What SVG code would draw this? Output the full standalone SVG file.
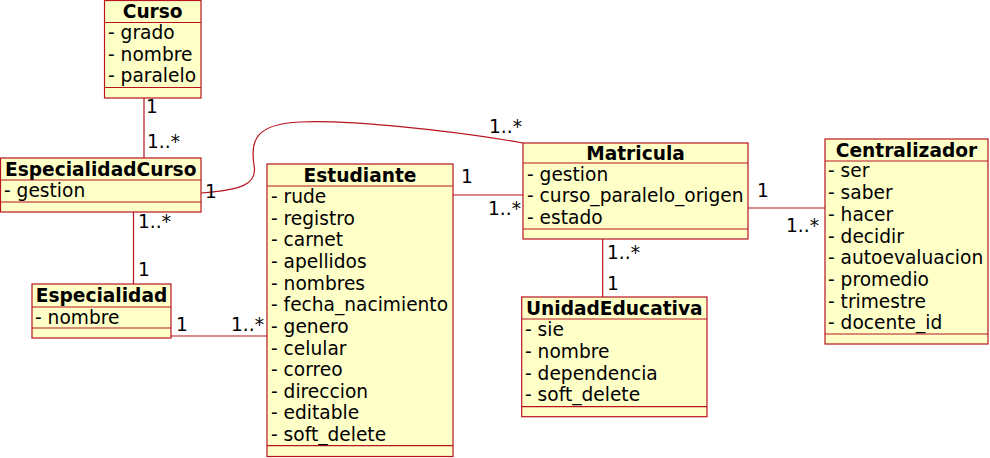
<svg xmlns="http://www.w3.org/2000/svg" width="990" height="458" viewBox="0 0 990 458">
<style>
.box{fill:#ffffc8;stroke:#b81420;stroke-width:1.2}
.ln{stroke:#b81420;stroke-width:1.2;fill:none}
.t{font-family:"DejaVu Sans",sans-serif;font-size:18.6px;font-weight:bold;fill:#000;text-anchor:middle}
.a{font-family:"DejaVu Sans",sans-serif;font-size:18.6px;fill:#000}
.m{font-family:"DejaVu Sans",sans-serif;font-size:18.6px;fill:#000}
</style>
<rect width="990" height="458" fill="#fff"/>
<g id="connectors">
<line class="ln" x1="144" y1="98" x2="144" y2="158"/>
<line class="ln" x1="133.5" y1="212" x2="133.5" y2="284"/>
<line class="ln" x1="171" y1="336" x2="267" y2="336"/>
<line class="ln" x1="453" y1="195" x2="523" y2="195"/>
<line class="ln" x1="748" y1="208" x2="825" y2="208"/>
<line class="ln" x1="602.7" y1="239" x2="602.7" y2="297"/>
<path class="ln" d="M201,193 C240,190 258,185 254,165 C250,140 256,124 300,122 C350,120 450,130 523,143"/>
<text class="m" x="146" y="113">1</text>
<text class="m" x="147" y="148">1..*</text>
<text class="m" x="138" y="228">1..*</text>
<text class="m" x="138" y="276">1</text>
<text class="m" x="176" y="331">1</text>
<text class="m" x="231" y="331">1..*</text>
<text class="m" x="205" y="198">1</text>
<text class="m" x="489" y="133">1..*</text>
<text class="m" x="461" y="183">1</text>
<text class="m" x="488" y="215">1..*</text>
<text class="m" x="757" y="197">1</text>
<text class="m" x="786" y="232">1..*</text>
<text class="m" x="607" y="259">1..*</text>
<text class="m" x="607" y="290">1</text>
</g>
<g id="Curso">
<rect class="box" x="104.5" y="0.5" width="96.5" height="97.5"/>
<line class="ln" x1="104.5" y1="22.5" x2="201" y2="22.5"/>
<line class="ln" x1="104.5" y1="87.5" x2="201" y2="87.5"/>
<text class="t" x="152.7" y="18">Curso</text>
<text class="a" x="108" y="39">- grado</text>
<text class="a" x="108" y="61">- nombre</text>
<text class="a" x="108" y="82">- paralelo</text>
</g>
<g id="EspecialidadCurso">
<rect class="box" x="0.5" y="158" width="200.5" height="54"/>
<line class="ln" x1="0.5" y1="180" x2="201" y2="180"/>
<line class="ln" x1="0.5" y1="202" x2="201" y2="202"/>
<text class="t" x="100.7" y="176">EspecialidadCurso</text>
<text class="a" x="4" y="197">- gestion</text>
</g>
<g id="Especialidad">
<rect class="box" x="32" y="284" width="139" height="54"/>
<line class="ln" x1="32" y1="307" x2="171" y2="307"/>
<line class="ln" x1="32" y1="328" x2="171" y2="328"/>
<text class="t" x="101.5" y="302">Especialidad</text>
<text class="a" x="35" y="324">- nombre</text>
</g>
<g id="Estudiante">
<rect class="box" x="267" y="164" width="186" height="292.5"/>
<line class="ln" x1="267" y1="186" x2="453" y2="186"/>
<line class="ln" x1="267" y1="445.7" x2="453" y2="445.7"/>
<text class="t" x="360" y="182">Estudiante</text>
<text class="a" x="271" y="203">- rude</text>
<text class="a" x="271" y="225">- registro</text>
<text class="a" x="271" y="246">- carnet</text>
<text class="a" x="271" y="268">- apellidos</text>
<text class="a" x="271" y="290">- nombres</text>
<text class="a" x="271" y="311">- fecha_nacimiento</text>
<text class="a" x="271" y="333">- genero</text>
<text class="a" x="271" y="355">- celular</text>
<text class="a" x="271" y="376">- correo</text>
<text class="a" x="271" y="398">- direccion</text>
<text class="a" x="271" y="419">- editable</text>
<text class="a" x="271" y="441">- soft_delete</text>
</g>
<g id="Matricula">
<rect class="box" x="523" y="143" width="225" height="96"/>
<line class="ln" x1="523" y1="163" x2="748" y2="163"/>
<line class="ln" x1="523" y1="229" x2="748" y2="229"/>
<text class="t" x="635.5" y="160">Matricula</text>
<text class="a" x="527" y="181">- gestion</text>
<text class="a" x="527" y="202">- curso_paralelo_origen</text>
<text class="a" x="527" y="224">- estado</text>
</g>
<g id="Centralizador">
<rect class="box" x="825" y="139" width="163" height="205"/>
<line class="ln" x1="825" y1="161" x2="988" y2="161"/>
<line class="ln" x1="825" y1="334" x2="988" y2="334"/>
<text class="t" x="906.5" y="157">Centralizador</text>
<text class="a" x="828" y="177">- ser</text>
<text class="a" x="828" y="199">- saber</text>
<text class="a" x="828" y="221">- hacer</text>
<text class="a" x="828" y="243">- decidir</text>
<text class="a" x="828" y="264">- autoevaluacion</text>
<text class="a" x="828" y="286">- promedio</text>
<text class="a" x="828" y="308">- trimestre</text>
<text class="a" x="828" y="329">- docente_id</text>
</g>
<g id="UnidadEducativa">
<rect class="box" x="521.7" y="297" width="185.3" height="119.7"/>
<line class="ln" x1="521.7" y1="319" x2="707" y2="319"/>
<line class="ln" x1="521.7" y1="406.7" x2="707" y2="406.7"/>
<text class="t" x="614.3" y="315">UnidadEducativa</text>
<text class="a" x="525" y="336">- sie</text>
<text class="a" x="525" y="358">- nombre</text>
<text class="a" x="525" y="380">- dependencia</text>
<text class="a" x="525" y="401">- soft_delete</text>
</g>
</svg>
